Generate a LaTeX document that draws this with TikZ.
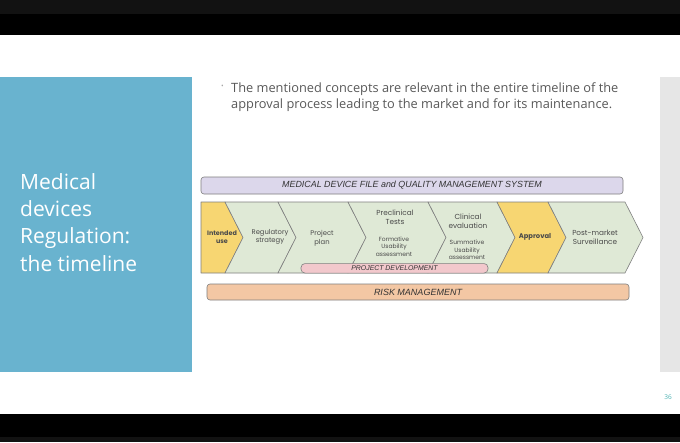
\documentclass[tikz,border=0pt]{standalone}
\usepackage{fontspec}
\setmainfont{Open Sans}
\newfontfamily\stepfont{Poppins}
\newfontfamily\barfont{Liberation Sans}
\definecolor{panelblue}{HTML}{69B3CF}
\definecolor{sidegray}{HTML}{E6E6E6}
\definecolor{bodygray}{HTML}{595959}
\definecolor{stepgreen}{HTML}{DFE9D6}
\definecolor{stepyellow}{HTML}{F7D672}
\definecolor{steptext}{HTML}{4A4A4A}
\definecolor{chevline}{HTML}{7F7F7F}
\definecolor{lavender}{HTML}{DCD7EB}
\definecolor{devpink}{HTML}{F2C8CC}
\definecolor{riskpeach}{HTML}{F3C7A4}
\definecolor{pageteal}{HTML}{4EB3B3}

\begin{document}
\begin{tikzpicture}[x=1pt,y=-1pt,
  chevron/.style={draw=chevline,line width=0.6pt,line join=round},
  steplabel/.style={align=center,text=steptext,font=\stepfont\fontsize{6.8}{8.6}\selectfont},
  sublabel/.style={align=center,text=steptext,font=\stepfont\fontsize{6}{7.6}\selectfont},
  band/.style={draw=chevline,line width=0.6pt,rounded corners=3pt,inner sep=0pt,text=black!80,font=\barfont\itshape}]

  \useasboundingbox (0,0) rectangle (680,442);

  % slide frame
  \fill[black!93] (0,0) rectangle (680,14);
  \fill[black] (0,14) rectangle (680,35);
  \fill[white] (0,35) rectangle (680,414);
  \fill[black] (0,414) rectangle (680,437);
  \fill[black!93] (0,437) rectangle (680,442);
  \fill[panelblue] (0,77) rectangle (192,372);
  \fill[sidegray] (660,77) rectangle (680,372);

  \node[anchor=north west,align=left,text=white,inner sep=0pt,
    font=\fontsize{21}{27.3}\selectfont] (title) at (20,173)
    {Medical\\devices\\Regulation:\\the timeline};

  \node[anchor=north west,text=black!35,inner sep=0pt,font=\fontsize{7}{8}\selectfont] (bullet) at (221,85) {\textbullet};
  \node[anchor=north west,align=left,text=bodygray,inner sep=0pt,
    font=\fontsize{12.8}{16}\selectfont] (intro) at (231,82.5)
    {The mentioned concepts are relevant in the entire timeline of the\\
     approval process leading to the market and for its maintenance.};

  \node[text=pageteal,inner sep=0pt,font=\fontsize{6.5}{7}\selectfont] (page) at (668,397) {36};

  % top band
  \node[band,fill=lavender,minimum width=422,minimum height=17,font=\barfont\itshape\fontsize{8.9}{9}\selectfont] (mdf) at (412,185.5)
    {MEDICAL DEVICE FILE and QUALITY MANAGEMENT SYSTEM};

  % chevrons
  \draw[chevron,fill=stepyellow] (201,202) -- (225,202) -- (243,237.5) -- (225,273) -- (201,273) -- cycle;
  \foreach \l/\r/\c in {225/278/stepgreen, 278/348/stepgreen, 348/428/stepgreen,
                        428/497/stepgreen, 497/548/stepyellow, 548/625/stepgreen}
    \draw[chevron,fill=\c] (\l,202) -- (\r,202) -- ({\r+18},237.5) -- (\r,273) -- (\l,273) -- ({\l+18},237.5) -- cycle;

  \node[steplabel,font=\stepfont\fontsize{6.4}{8.6}\selectfont\bfseries] (intended) at (222,237) {Intended\\use};
  \node[steplabel] (regulatory) at (270,237) {Regulatory\\strategy};
  \node[steplabel] (plan) at (322,238) {Project\\plan};
  \node[steplabel,font=\stepfont\fontsize{7.3}{9}\selectfont] (preclinical) at (395,217.5) {Preclinical\\Tests};
  \node[sublabel] (formative) at (394,246.5) {Formative\\Usability\\assessment};
  \node[steplabel,font=\stepfont\fontsize{7.3}{9}\selectfont] (clinical) at (468,221.5) {Clinical\\evaluation};
  \node[sublabel] (summative) at (467,250) {Summative\\Usability\\assessment};
  \node[steplabel,font=\stepfont\fontsize{6.8}{8.6}\selectfont\bfseries] (approval) at (535,237) {Approval};
  \node[steplabel,font=\stepfont\fontsize{7.3}{9}\selectfont] (postmarket) at (595,237.5) {Post-market\\Surveillance};

  % lower bands
  \node[band,fill=devpink,minimum width=187,minimum height=9.5,rounded corners=4pt,font=\barfont\itshape\fontsize{6.9}{7}\selectfont] (projdev) at (394.5,268.3)
    {PROJECT DEVELOPMENT};
  \node[band,fill=riskpeach,minimum width=422,minimum height=16,font=\barfont\itshape\fontsize{9}{10}\selectfont] (risk) at (418,292)
    {RISK MANAGEMENT};
\end{tikzpicture}
\end{document}
